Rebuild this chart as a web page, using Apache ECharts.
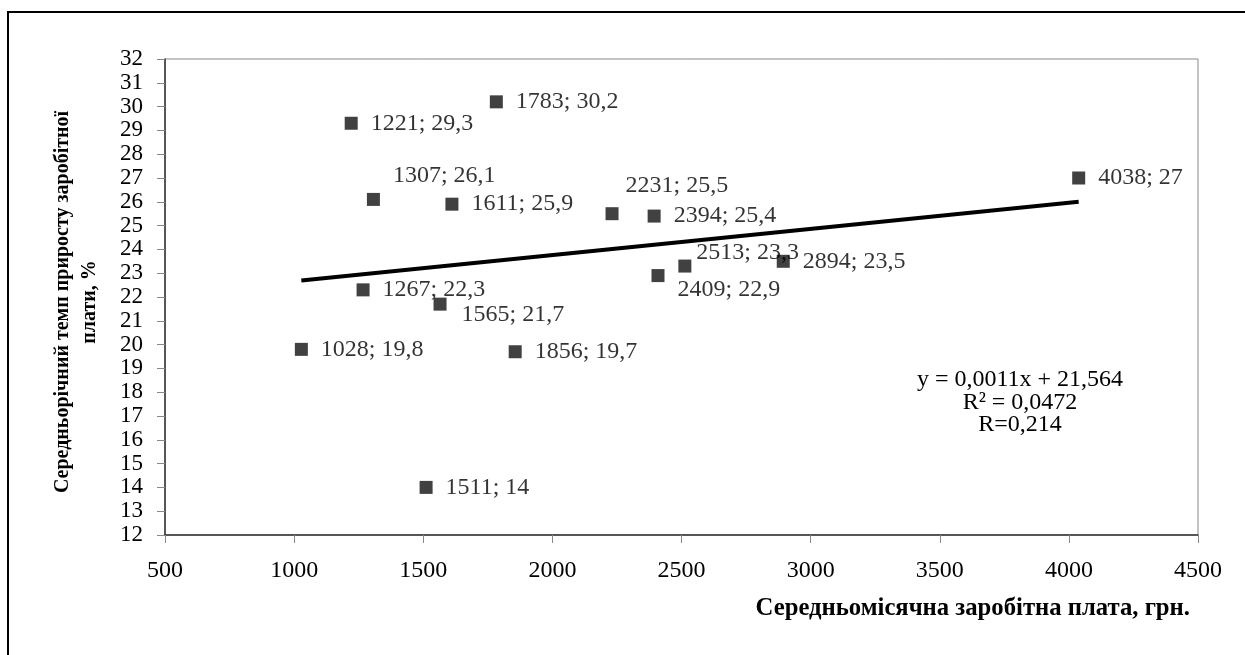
<!DOCTYPE html>
<html>
<head>
<meta charset="utf-8">
<script src="https://cdn.jsdelivr.net/npm/echarts@6/dist/echarts.min.js"></script>
<style>
  html, body { margin: 0; padding: 0; background: #fff; }
  #frame { position: absolute; left: 7px; top: 11px; width: 1300px; height: 700px; border: 2px solid #000; }
  #chart { position: absolute; left: 0; top: 0; width: 1245px; height: 655px; }
</style>
</head>
<body>
<div id="frame"></div>
<div id="chart"></div>
<script>
// дані: середньомісячна зарплата (грн) та темп приросту (%)
var salary = [1028, 1221, 1267, 1307, 1511, 1565, 1611, 1783, 1856, 2231, 2394, 2409, 2513, 2894, 4038];
var growth = [19.8, 29.3, 22.3, 26.1, 14, 21.7, 25.9, 30.2, 19.7, 25.5, 25.4, 22.9, 23.3, 23.5, 27];
var xTicks = [500, 1000, 1500, 2000, 2500, 3000, 3500, 4000, 4500];
var yTicks = [12, 32];

// лінійний тренд з рівняння на графіку
var trendSlope = 0.0011;
var trendIntercept = 21.564;
var eqLines = ['y = 0,0011x + 21,564', 'R² = 0,0472', 'R=0,214'];

// зсув підписів для точок, що перекриваються
var labelShift = {
  1307: [0, -24],
  2231: [-6, -28],
  1565: [2, 11],
  2409: [0, 14],
  2513: [-8, -13]
};

var font = '"Liberation Serif", "Times New Roman", serif';

var points = [];
for (var i = 0; i < salary.length; i++) {
  points.push({
    value: [salary[i], growth[i]],
    label: { offset: labelShift[salary[i]] || [0, 0] }
  });
}

var xMin = Math.min.apply(null, salary);
var xMax = Math.max.apply(null, salary);
var trend = [
  [xMin, trendSlope * xMin + trendIntercept],
  [xMax, trendSlope * xMax + trendIntercept]
];

var chart = echarts.init(document.getElementById('chart'));
chart.setOption({
  animation: false,
  backgroundColor: 'transparent',
  textStyle: { fontFamily: font },
  grid: {
    left: 165, top: 59, right: 47, bottom: 120,
    show: true, borderColor: '#888', borderWidth: 1
  },
  xAxis: {
    type: 'value',
    min: xTicks[0], max: xTicks[xTicks.length - 1], interval: 500,
    axisLine: { onZero: false, lineStyle: { color: '#333', width: 1.5 } },
    axisTick: { show: true, inside: false, length: 8, lineStyle: { color: '#888' } },
    axisLabel: {
      color: '#000', fontSize: 24, fontFamily: font, margin: 24,
      showMinLabel: true, showMaxLabel: true, hideOverlap: false,
      formatter: function (v) { return String(v); }
    },
    splitLine: { show: false }
  },
  yAxis: {
    type: 'value',
    min: yTicks[0], max: yTicks[1], interval: 1,
    axisLine: { show: true, onZero: false, lineStyle: { color: '#333', width: 1.5 } },
    axisTick: { show: true, inside: false, length: 8, lineStyle: { color: '#888' } },
    axisLabel: {
      color: '#000', fontSize: 23, lineHeight: 18, fontFamily: font, margin: 22,
      showMinLabel: true, showMaxLabel: true, hideOverlap: false,
      formatter: function (v) { return String(v); }
    },
    splitLine: { show: false }
  },
  series: [
    {
      type: 'line',
      data: trend,
      symbol: 'none',
      lineStyle: { color: '#000', width: 4 },
      z: 2
    },
    {
      type: 'scatter',
      data: points,
      symbol: 'rect',
      symbolSize: 13,
      itemStyle: { color: '#111' },
      label: {
        show: true,
        position: 'right',
        distance: 13,
        color: '#000',
        fontSize: 24,
        fontFamily: font,
        formatter: function (p) {
          return p.value[0] + '; ' + String(p.value[1]).replace('.', ',');
        }
      },
      z: 3
    }
  ],
  graphic: [
    {
      type: 'text', x: 1020, y: 380,
      style: { text: eqLines[0], font: '24px ' + font, fill: '#000', textAlign: 'center', textVerticalAlign: 'middle' }
    },
    {
      type: 'text', x: 1020, y: 403,
      style: { text: eqLines[1], font: '24px ' + font, fill: '#000', textAlign: 'center', textVerticalAlign: 'middle' }
    },
    {
      type: 'text', x: 1020, y: 425,
      style: { text: eqLines[2], font: '24px ' + font, fill: '#000', textAlign: 'center', textVerticalAlign: 'middle' }
    },
    {
      type: 'text', x: 1190, y: 609,
      style: {
        text: 'Середньомісячна заробітна плата, грн.',
        font: 'bold 24.7px ' + font, fill: '#000', textAlign: 'right', textVerticalAlign: 'middle'
      }
    },
    {
      type: 'text', x: 76, y: 302, rotation: Math.PI / 2,
      style: {
        text: 'Середньорічний темп приросту заробітної\nплати, %',
        font: 'bold 20px ' + font, fill: '#000', lineHeight: 27,
        textAlign: 'center', textVerticalAlign: 'middle'
      }
    }
  ]
});
</script>
</body>
</html>
